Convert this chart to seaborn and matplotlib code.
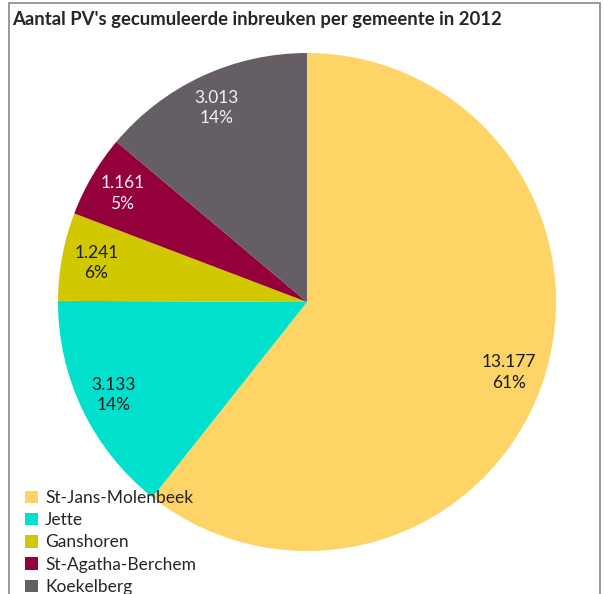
import matplotlib
matplotlib.use("Agg")
import matplotlib.pyplot as plt
from matplotlib.patches import Patch, Rectangle
import seaborn as sns

# data
gemeenten = ["St-Jans-Molenbeek", "Jette", "Ganshoren", "St-Agatha-Berchem", "Koekelberg"]
inbreuken = [13177, 3133, 1241, 1161, 3013]
kleuren = ["#FFD466", "#00E0CC", "#D2C800", "#93003C", "#655F65"]
label_kleur = ["#1a1a1a", "#1a1a1a", "#1a1a1a", "#f4f0f4", "#f4f0f4"]

sns.set_style("white")
plt.rcParams['font.family'] = ['Lato', 'DejaVu Sans']

fig = plt.figure(figsize=(6.04, 5.94), dpi=100)
ax = fig.add_axes([58/604, 43/594, 498/604, 498/594])

totaal = sum(inbreuken)

def fmt(pct):
    v = int(round(pct * totaal / 100))
    return f"{v:,}".replace(",", ".") + f"\n{pct:.0f}%"

wedges, texts, autotexts = ax.pie(inbreuken, colors=kleuren, startangle=90, counterclock=False,
                                  autopct=fmt, pctdistance=0.86, radius=1,
                                  wedgeprops={'linewidth': 0},
                                  textprops={'fontsize': 12.5, 'linespacing': 1.35})
for t, c in zip(autotexts, label_kleur):
    t.set_color(c)
ax.set_xlim(-1, 1)
ax.set_ylim(-1, 1)
ax.set_aspect('equal')

# title
fig.text(12/604, 1 - 20/594, "Aantal PV's gecumuleerde inbreuken per gemeente in 2012",
         fontsize=13.3, fontweight='bold', va='center', ha='left')

# legend
handles = [Patch(facecolor=c, edgecolor='none') for c in kleuren]
fig.legend(handles, gemeenten, loc='upper left', bbox_to_anchor=(18/604, 1 - 483/594),
           frameon=False, fontsize=12.5, handlelength=0.75, handleheight=0.75,
           handletextpad=0.4, labelspacing=0.36, borderaxespad=0)

# frame around the chart
fig.add_artist(Rectangle((9/604, -0.02), 591/604, 1.02 - 3/594, transform=fig.transFigure,
                         fill=False, edgecolor='#888888', linewidth=1.2))

fig.savefig("out.png", dpi=100)
